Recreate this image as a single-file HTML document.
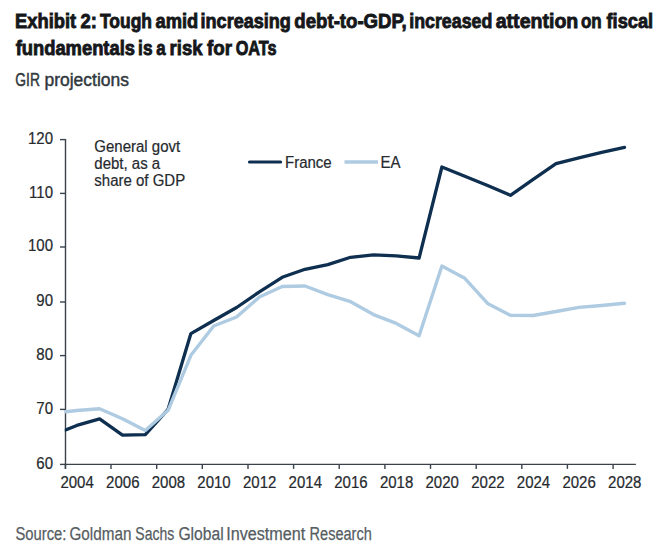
<!DOCTYPE html>
<html><head><meta charset="utf-8"><style>
html,body{margin:0;padding:0;background:#fff;width:664px;height:559px;overflow:hidden}
svg{display:block}
text{font-family:"Liberation Sans",sans-serif}
.ax{font-size:15px;fill:#262a2e;stroke:#262a2e;stroke-width:0.2px}
.t{font-size:21px;font-weight:bold;fill:#15171a;stroke:#15171a;stroke-width:0.9px}
.s{font-size:18px;fill:#30373d;stroke:#30373d;stroke-width:0.45px}
.src{font-size:18px;fill:#565d62;stroke:#565d62;stroke-width:0.25px}
</style></head><body>
<svg width="664" height="559" viewBox="0 0 664 559">
<defs><clipPath id="pa"><rect x="64.8" y="100" width="580" height="364.5"/></clipPath></defs>
<line x1="65.5" y1="138.9" x2="65.5" y2="468.9" stroke="#3a434c" stroke-width="1.4"/>
<line x1="64.8" y1="464.4" x2="635.9" y2="464.4" stroke="#3a434c" stroke-width="1.4"/>
<line x1="60" y1="464.4" x2="65.5" y2="464.4" stroke="#3a434c" stroke-width="1.4"/>
<line x1="60" y1="409.4" x2="65.5" y2="409.4" stroke="#3a434c" stroke-width="1.4"/>
<line x1="60" y1="355.6" x2="65.5" y2="355.6" stroke="#3a434c" stroke-width="1.4"/>
<line x1="60" y1="302.0" x2="65.5" y2="302.0" stroke="#3a434c" stroke-width="1.4"/>
<line x1="60" y1="247.0" x2="65.5" y2="247.0" stroke="#3a434c" stroke-width="1.4"/>
<line x1="60" y1="193.4" x2="65.5" y2="193.4" stroke="#3a434c" stroke-width="1.4"/>
<line x1="60" y1="139.6" x2="65.5" y2="139.6" stroke="#3a434c" stroke-width="1.4"/>
<line x1="65.4" y1="464.4" x2="65.4" y2="468.9" stroke="#3a434c" stroke-width="1.4"/>
<line x1="111.0" y1="464.4" x2="111.0" y2="468.9" stroke="#3a434c" stroke-width="1.4"/>
<line x1="156.7" y1="464.4" x2="156.7" y2="468.9" stroke="#3a434c" stroke-width="1.4"/>
<line x1="202.3" y1="464.4" x2="202.3" y2="468.9" stroke="#3a434c" stroke-width="1.4"/>
<line x1="248.0" y1="464.4" x2="248.0" y2="468.9" stroke="#3a434c" stroke-width="1.4"/>
<line x1="293.6" y1="464.4" x2="293.6" y2="468.9" stroke="#3a434c" stroke-width="1.4"/>
<line x1="339.2" y1="464.4" x2="339.2" y2="468.9" stroke="#3a434c" stroke-width="1.4"/>
<line x1="384.9" y1="464.4" x2="384.9" y2="468.9" stroke="#3a434c" stroke-width="1.4"/>
<line x1="430.5" y1="464.4" x2="430.5" y2="468.9" stroke="#3a434c" stroke-width="1.4"/>
<line x1="476.2" y1="464.4" x2="476.2" y2="468.9" stroke="#3a434c" stroke-width="1.4"/>
<line x1="521.8" y1="464.4" x2="521.8" y2="468.9" stroke="#3a434c" stroke-width="1.4"/>
<line x1="567.4" y1="464.4" x2="567.4" y2="468.9" stroke="#3a434c" stroke-width="1.4"/>
<line x1="613.1" y1="464.4" x2="613.1" y2="468.9" stroke="#3a434c" stroke-width="1.4"/>
<g clip-path="url(#pa)">
<polyline points="65.5,430.1 76.8,425.4 99.6,418.9 122.5,435.2 145.3,434.6 168.1,409.3 190.9,333.6 213.7,320.5 236.6,307.5 259.4,291.8 282.2,277.3 305.0,269.3 327.8,264.6 350.6,257.3 373.5,254.8 396.3,255.9 419.1,258.0 441.9,167.0 464.8,176.3 487.6,185.5 510.4,195.3 533.2,179.4 556.0,163.6 578.9,157.8 601.7,152.4 624.5,147.4" fill="none" stroke="#0e2f4f" stroke-width="3.3" stroke-linejoin="round" stroke-linecap="round"/>
<polyline points="65.5,411.8 76.8,410.5 99.6,408.8 122.5,418.8 145.3,430.6 168.1,410.3 190.9,355.3 213.7,326.0 236.6,317.0 259.4,297.0 282.2,286.5 305.0,286.0 327.8,294.6 350.6,301.7 373.5,314.6 396.3,323.4 419.1,335.7 441.9,266.0 464.8,278.3 487.6,303.4 510.4,315.3 533.2,315.5 556.0,311.5 578.9,307.4 601.7,305.5 624.5,303.3" fill="none" stroke="#aecbe2" stroke-width="3.4" stroke-linejoin="round" stroke-linecap="round"/>
</g>
<text x="53" y="468.8" text-anchor="end" class="ax" transform="matrix(1,0,0,1.08,0,-37.50)">60</text>
<text x="53" y="413.8" text-anchor="end" class="ax" transform="matrix(1,0,0,1.08,0,-33.10)">70</text>
<text x="53" y="360.0" text-anchor="end" class="ax" transform="matrix(1,0,0,1.08,0,-28.80)">80</text>
<text x="53" y="306.4" text-anchor="end" class="ax" transform="matrix(1,0,0,1.08,0,-24.51)">90</text>
<text x="53" y="251.4" text-anchor="end" class="ax" transform="matrix(1,0,0,1.08,0,-20.11)">100</text>
<text x="53" y="197.8" text-anchor="end" class="ax" transform="matrix(1,0,0,1.08,0,-15.82)">110</text>
<text x="53" y="144.0" text-anchor="end" class="ax" transform="matrix(1,0,0,1.08,0,-11.52)">120</text>
<text x="77.1" y="487.8" text-anchor="middle" class="ax" transform="matrix(1,0,0,1.08,0,-39.02)">2004</text>
<text x="122.8" y="487.8" text-anchor="middle" class="ax" transform="matrix(1,0,0,1.08,0,-39.02)">2006</text>
<text x="168.4" y="487.8" text-anchor="middle" class="ax" transform="matrix(1,0,0,1.08,0,-39.02)">2008</text>
<text x="214.0" y="487.8" text-anchor="middle" class="ax" transform="matrix(1,0,0,1.08,0,-39.02)">2010</text>
<text x="259.7" y="487.8" text-anchor="middle" class="ax" transform="matrix(1,0,0,1.08,0,-39.02)">2012</text>
<text x="305.3" y="487.8" text-anchor="middle" class="ax" transform="matrix(1,0,0,1.08,0,-39.02)">2014</text>
<text x="350.9" y="487.8" text-anchor="middle" class="ax" transform="matrix(1,0,0,1.08,0,-39.02)">2016</text>
<text x="396.6" y="487.8" text-anchor="middle" class="ax" transform="matrix(1,0,0,1.08,0,-39.02)">2018</text>
<text x="442.2" y="487.8" text-anchor="middle" class="ax" transform="matrix(1,0,0,1.08,0,-39.02)">2020</text>
<text x="487.9" y="487.8" text-anchor="middle" class="ax" transform="matrix(1,0,0,1.08,0,-39.02)">2022</text>
<text x="533.5" y="487.8" text-anchor="middle" class="ax" transform="matrix(1,0,0,1.08,0,-39.02)">2024</text>
<text x="579.1" y="487.8" text-anchor="middle" class="ax" transform="matrix(1,0,0,1.08,0,-39.02)">2026</text>
<text x="624.8" y="487.8" text-anchor="middle" class="ax" transform="matrix(1,0,0,1.08,0,-39.02)">2028</text>
<text x="94.3" y="151.8" class="ax" transform="matrix(1,0,0,1.08,0,-12.14)">General govt</text>
<text x="94.3" y="169.0" class="ax" transform="matrix(1,0,0,1.08,0,-13.52)">debt, as a</text>
<text x="94.3" y="186.0" class="ax" transform="matrix(1,0,0,1.08,0,-14.88)">share of GDP</text>
<line x1="249.5" y1="162" x2="280.6" y2="162" stroke="#0e2f4f" stroke-width="3.2" stroke-linecap="round"/>
<text x="285" y="167.6" class="ax" transform="matrix(1,0,0,1.08,0,-13.41)">France</text>
<line x1="344.5" y1="162" x2="378" y2="162" stroke="#aecbe2" stroke-width="3.4" stroke-linecap="butt"/>
<text x="380.5" y="167.6" class="ax" transform="matrix(1,0,0,1.08,0,-13.41)">EA</text>
<text x="15.07" y="28.3" class="t" textLength="61.05" lengthAdjust="spacingAndGlyphs">Exhibit</text>
<text x="80.46" y="28.3" class="t" textLength="16.42" lengthAdjust="spacingAndGlyphs">2:</text>
<text x="100.01" y="28.3" class="t" textLength="51.95" lengthAdjust="spacingAndGlyphs">Tough</text>
<text x="155.56" y="28.3" class="t" textLength="42.64" lengthAdjust="spacingAndGlyphs">amid</text>
<text x="200.54" y="28.3" class="t" textLength="90.37" lengthAdjust="spacingAndGlyphs">increasing</text>
<text x="294.35" y="28.3" class="t" textLength="112.37" lengthAdjust="spacingAndGlyphs">debt-to-GDP,</text>
<text x="409.26" y="28.3" class="t" textLength="83.01" lengthAdjust="spacingAndGlyphs">increased</text>
<text x="495.73" y="28.3" class="t" textLength="82.59" lengthAdjust="spacingAndGlyphs">attention</text>
<text x="580.94" y="28.3" class="t" textLength="20.71" lengthAdjust="spacingAndGlyphs">on</text>
<text x="606.49" y="28.3" class="t" textLength="46.71" lengthAdjust="spacingAndGlyphs">fiscal</text>
<text x="15.69" y="55.2" class="t" textLength="119.27" lengthAdjust="spacingAndGlyphs">fundamentals</text>
<text x="138.09" y="55.2" class="t" textLength="14.42" lengthAdjust="spacingAndGlyphs">is</text>
<text x="156.31" y="55.2" class="t" textLength="9.39" lengthAdjust="spacingAndGlyphs">a</text>
<text x="169.58" y="55.2" class="t" textLength="32.90" lengthAdjust="spacingAndGlyphs">risk</text>
<text x="206.98" y="55.2" class="t" textLength="25.00" lengthAdjust="spacingAndGlyphs">for</text>
<text x="235.67" y="55.2" class="t" textLength="40.96" lengthAdjust="spacingAndGlyphs">OATs</text>
<text x="15.30" y="85.6" class="s" textLength="24.64" lengthAdjust="spacingAndGlyphs">GIR</text>
<text x="44.47" y="85.6" class="s" textLength="84.46" lengthAdjust="spacingAndGlyphs">projections</text>
<text x="15.43" y="539.6" class="src" textLength="51.02" lengthAdjust="spacingAndGlyphs">Source:</text>
<text x="69.53" y="539.6" class="src" textLength="61.86" lengthAdjust="spacingAndGlyphs">Goldman</text>
<text x="135.36" y="539.6" class="src" textLength="38.94" lengthAdjust="spacingAndGlyphs">Sachs</text>
<text x="178.41" y="539.6" class="src" textLength="45.34" lengthAdjust="spacingAndGlyphs">Global</text>
<text x="226.21" y="539.6" class="src" textLength="79.11" lengthAdjust="spacingAndGlyphs">Investment</text>
<text x="309.61" y="539.6" class="src" textLength="62.13" lengthAdjust="spacingAndGlyphs">Research</text>
</svg>
</body></html>
